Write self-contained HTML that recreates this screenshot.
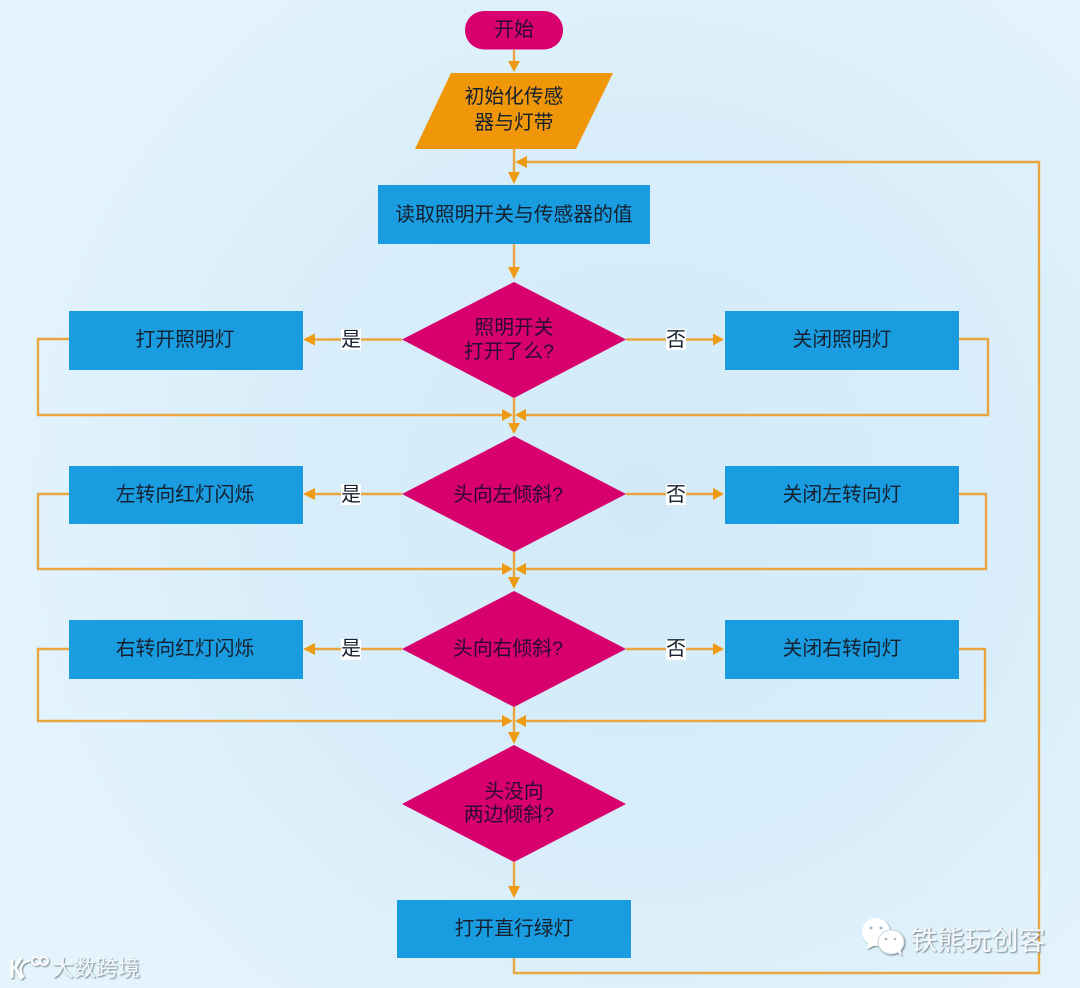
<!DOCTYPE html>
<html lang="zh"><head><meta charset="utf-8"><title>流程图</title>
<style>
html,body{margin:0;padding:0;width:1080px;height:988px;overflow:hidden;background:#dff1fb}
svg{display:block;filter:blur(.35px)}
text{font-family:"Liberation Sans","Noto Sans CJK SC",sans-serif;font-size:19.8px;fill:#14202e;text-anchor:middle}
text.d{fill:#2a0a30}
.l{fill:none;stroke:#e8a542;stroke-width:2.4}
.a{fill:#ee9a12}
.b{fill:#1a9ce0}
.m{fill:#d7006e}
</style></head><body>
<svg width="1080" height="988" viewBox="0 0 1080 988" xmlns="http://www.w3.org/2000/svg">
<defs>
<radialGradient id="bg" gradientUnits="userSpaceOnUse" cx="640" cy="500" r="680">
<stop offset="0" stop-color="#d2eaf8"/><stop offset=".55" stop-color="#d9eefa"/><stop offset="1" stop-color="#e4f4fc"/>
</radialGradient>
<filter id="s" x="-10%" y="-20%" width="120%" height="140%"><feDropShadow dx="1" dy="1" stdDeviation=".8" flood-color="#5f707c" flood-opacity=".85"/></filter>
</defs>
<rect width="1080" height="988" fill="url(#bg)"/>

<!-- connectors -->
<path class="l" d="M514 50V64M514 149V175M514 244V270M514 398V426M514 552V580M514 707V735M514 862V889"/>
<path class="l" d="M514 958V973H1039V162H524"/>
<path class="l" d="M402 339.500H312M626 339.500H716M402 494H312M626 494H716M402 649H312M626 649H716"/>
<path class="l" d="M69 339H38V415H504M959 339H988V415H524"/>
<path class="l" d="M69 494H38V569H504M959 494H986V569H524"/>
<path class="l" d="M69 649H38V721H504M959 649H985V721H524"/>

<!-- arrowheads -->
<g class="a">
<path d="M508 61H520L514 72Z"/><path d="M508 172H520L514 184Z"/><path d="M508 267H520L514 279Z"/>
<path d="M508 423H520L514 434Z"/><path d="M508 577H520L514 589Z"/><path d="M508 732H520L514 744Z"/><path d="M508 886H520L514 898Z"/>
<path d="M515 162L527 156V168Z"/>
<path d="M303 339.500L315 333.500V345.500Z"/><path d="M303 494L315 488V500Z"/><path d="M303 649L315 643V655Z"/>
<path d="M724 339.500L713 333.500V345.500Z"/><path d="M724 494L713 488V500Z"/><path d="M724 649L713 643V655Z"/>
<path d="M513 415L502 409V421Z"/><path d="M515 415L526 409V421Z"/>
<path d="M513 569L502 563V575Z"/><path d="M515 569L526 563V575Z"/>
<path d="M513 721L502 715V727Z"/><path d="M515 721L526 715V727Z"/>
</g>

<!-- shapes -->
<rect class="m" x="465" y="11" width="98" height="38.500" rx="19"/>
<path d="M451 73H613L576 149H415Z" fill="#f09709"/>
<rect class="b" x="378" y="185" width="272" height="59"/>
<path class="m" d="M514 282L626 339.500L514 398L402 339.500Z"/>
<path class="m" d="M514 436L626 494L514 552L402 494Z"/>
<path class="m" d="M514 591L626 649L514 707L402 649Z"/>
<path class="m" d="M514 745L626 804L514 862L402 804Z"/>
<rect class="b" x="69" y="311" width="234" height="59"/>
<rect class="b" x="69" y="466" width="234" height="58"/>
<rect class="b" x="69" y="620" width="234" height="59"/>
<rect class="b" x="725" y="311" width="234" height="59"/>
<rect class="b" x="725" y="466" width="234" height="58"/>
<rect class="b" x="725" y="620" width="234" height="59"/>
<rect class="b" x="397" y="900" width="234" height="58"/>

<!-- label backgrounds -->
<g fill="#ffffff">
<rect x="341" y="329" width="20" height="21"/><rect x="666" y="329" width="20" height="21"/>
<rect x="341" y="484" width="20" height="21"/><rect x="666" y="484" width="20" height="21"/>
<rect x="341" y="639" width="20" height="21"/><rect x="666" y="639" width="20" height="21"/>
</g>

<!-- labels -->
<text class="d" x="514" y="36">开始</text>
<text x="514" y="103">初始化传感</text>
<text x="514" y="129">器与灯带</text>
<text x="514" y="221">读取照明开关与传感器的值</text>
<text class="d" x="514" y="334">照明开关</text>
<text class="d" x="509" y="358">打开了么?</text>
<text class="d" x="508" y="501">头向左倾斜?</text>
<text class="d" x="508" y="655">头向右倾斜?</text>
<text class="d" x="514" y="798">头没向</text>
<text class="d" x="509" y="821">两边倾斜?</text>
<text x="185" y="346">打开照明灯</text>
<text x="185" y="501">左转向红灯闪烁</text>
<text x="185" y="655">右转向红灯闪烁</text>
<text x="842" y="346">关闭照明灯</text>
<text x="842" y="501">关闭左转向灯</text>
<text x="842" y="655">关闭右转向灯</text>
<text x="514" y="935">打开直行绿灯</text>
<text x="351" y="346">是</text><text x="676" y="346">否</text>
<text x="351" y="501">是</text><text x="676" y="501">否</text>
<text x="351" y="655">是</text><text x="676" y="655">否</text>

<!-- watermarks -->
<g filter="url(#s)">
<text x="978" y="950" style="font-size:27px;fill:#f4f8fb">铁熊玩创客</text>
<ellipse cx="876" cy="932" rx="14" ry="14" fill="#fff"/>
<path d="M868 943L867 949L876 945Z" fill="#fff"/>
<ellipse cx="891" cy="942" rx="13" ry="12" fill="#fff" stroke="#c9d8e2" stroke-width="1"/>
<path d="M896 951L902 956L900 948Z" fill="#fff"/>
<circle cx="871" cy="928" r="1.500" fill="#aab8c2"/><circle cx="881" cy="928" r="1.500" fill="#aab8c2"/>
<circle cx="886" cy="939" r="1.300" fill="#aab8c2"/><circle cx="895" cy="939" r="1.300" fill="#aab8c2"/>
<text x="96" y="976" style="font-size:22px;fill:#f2f8fc">大数跨境</text>
<path d="M12 959V978M21 958L15 968L22 979" fill="none" stroke="#fff" stroke-width="3"/>
<path d="M30 961A9 9 0 0 0 24 977" fill="none" stroke="#fff" stroke-width="2"/>
<circle cx="36" cy="961" r="4" fill="none" stroke="#fff" stroke-width="2"/>
<circle cx="44" cy="961" r="4" fill="none" stroke="#fff" stroke-width="2"/>
</g>
</svg>
</body></html>
